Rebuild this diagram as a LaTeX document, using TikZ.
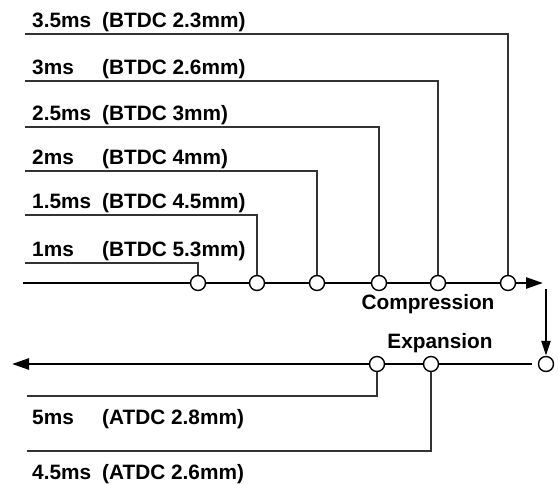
\documentclass[tikz,border=0pt]{standalone}
\usepackage{fontspec}
\setmainfont{Liberation Sans}
\usetikzlibrary{arrows.meta, positioning}
\definecolor{linegray}{RGB}{51,51,51}

\begin{document}
\begin{tikzpicture}[x=1pt, y=-1pt,
    every node/.style={font=\fontsize{20.8}{22}\selectfont\bfseries},
    valve/.style={circle, draw=black, fill=white, line width=1.4pt,
                  minimum size=15pt, inner sep=0pt},
    axisline/.style={line width=2.6pt, -{Triangle[length=17pt,width=11pt]}},
    leader/.style={draw=linegray, line width=1.6pt},
    timing/.style={anchor=base west, inner sep=0pt}]
    \useasboundingbox (0,0) rectangle (558,485);

    % Compression stroke axis
    \coordinate (cstart) at (23,283);
    \coordinate (cend) at (543,283);
    \draw[axisline] (cstart) -- (cend);
    % Expansion stroke axis
    \coordinate (estart) at (532,364);
    \coordinate (eend) at (12,364);
    \draw[axisline] (estart) -- (eend);

    % Injection before TDC
    \foreach \n/\tm/\dist/\yy/\xx in {1/1ms/5.3/263/198, 2/1.5ms/4.5/215/257,
        3/2ms/4/171/317, 4/2.5ms/3/127/379, 5/3ms/2.6/81/438, 6/3.5ms/2.3/34/508} {
        \node[valve] (c\n) at (\xx,283) {};
        \coordinate (l\n) at (25,\yy);
        \draw[leader] (l\n) -| (c\n.north);
        \node[timing] (t\n) at (32,\yy-7) {\tm};
        \node[timing] (b\n) at (102,\yy-7) {(BTDC \dist mm)};
    }

    % Injection after TDC
    \foreach \n/\tm/\dist/\yy/\xx in {1/5ms/2.8/396/377, 2/4.5ms/2.6/451/431} {
        \node[valve] (e\n) at (\xx,364) {};
        \coordinate (m\n) at (27,\yy);
        \draw[leader] (m\n) -| (e\n.south);
        \node[timing] (s\n) at (32,\yy+28) {\tm};
        \node[timing] (a\n) at (102,\yy+28) {(ATDC \dist mm)};
    }

    % TDC turn
    \node[valve] (tdc) at (546,364) {};
    \coordinate (dtop) at (546,289);
    \draw[line width=2.2pt, -{Triangle[length=15pt,width=9pt]}] (dtop) -- (tdc.north);

    \node (comp) at (428,304) {Compression};
    \node (expn) at (440,343) {Expansion};

\end{tikzpicture}
\end{document}
